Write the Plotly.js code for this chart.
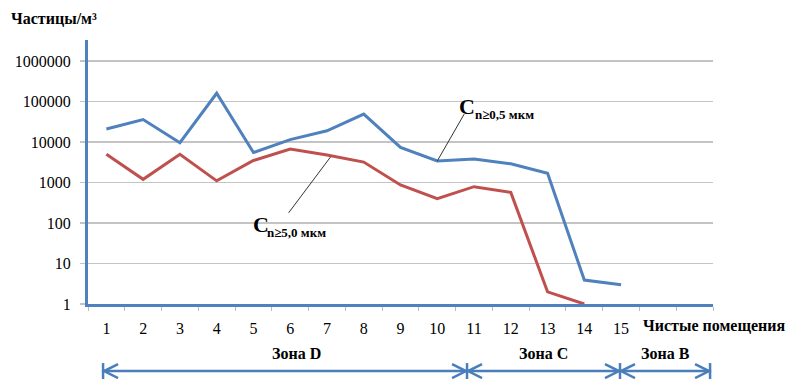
<!DOCTYPE html>
<html>
<head>
<meta charset="utf-8">
<script src="https://cdn.plot.ly/plotly-3.0.1.min.js"></script>
<style>html,body{margin:0;padding:0;background:#fff;}#chart{width:799px;height:379px;}</style>
</head>
<body>
<div id="chart"></div>
<script>
// ---- data ----
const rooms = [1,2,3,4,5,6,7,8,9,10,11,12,13,14,15];
const c05 = [21000, 36000, 9600, 160000, 5500, 11500, 19000, 49000, 7400, 3400, 3800, 2900, 1700, 3.9, 3.0];
const c50 = [5000, 1200, 5000, 1100, 3500, 6700, 4800, 3200, 870, 400, 790, 570, 2.0, 1.0];
const yTickVals = [1, 10, 100, 1000, 10000, 100000, 1000000];
const yTickText = ['1','10','100','1000','10000','100000','1000000'];
const zoneNames = ['Зона D', 'Зона C', 'Зона B'];
const seriesMain = ['C', 'C'];
const seriesSub = ['n≥0,5 мкм', 'n≥5,0 мкм'];

// ---- layout helpers ----
const zoneEdges = [0.91, 10.81, 14.97, 17.42];
const serif = 'Liberation Serif, Times New Roman, serif';
const blue = '#4F81BD', red = '#C0504D', arrowBlue = '#4A7EBB';
const arrowY = -0.254, zoneLabelY = -0.186;
const px = v => (v - 88) / 625, py = v => (304 - v) / 264;

const traces = [
  {x: rooms, y: c05, type: 'scatter', mode: 'lines', line: {color: blue, width: 3}, hoverinfo: 'skip'},
  {x: rooms.slice(0, c50.length), y: c50, type: 'scatter', mode: 'lines', line: {color: red, width: 3}, hoverinfo: 'skip'}
];

const shapes = [];
const annotations = [];
for (let i = 0; i < zoneNames.length; i++) {
  const a = zoneEdges[i], b = zoneEdges[i + 1];
  shapes.push({type: 'line', xref: 'x', yref: 'paper', x0: a, x1: b, y0: arrowY, y1: arrowY,
    line: {color: arrowBlue, width: 2.5}});
  shapes.push({type: 'path', xref: 'x', yref: 'paper', xsizemode: 'pixel', ysizemode: 'pixel',
    xanchor: a, yanchor: arrowY, path: 'M 15 7 L 1 0 L 15 -7', line: {color: arrowBlue, width: 2.5}});
  shapes.push({type: 'path', xref: 'x', yref: 'paper', xsizemode: 'pixel', ysizemode: 'pixel',
    xanchor: b, yanchor: arrowY, path: 'M -15 7 L -1 0 L -15 -7', line: {color: arrowBlue, width: 2.5}});
  annotations.push({xref: 'x', yref: 'paper', x: (a + b) / 2 + (i === 0 ? 0.3 : 0), y: zoneLabelY, text: '<b>' + zoneNames[i] + '</b>',
    showarrow: false, font: {family: serif, size: 16, color: '#000'}, xanchor: 'center', yanchor: 'middle'});
}
zoneEdges.forEach(e => {
  shapes.push({type: 'path', xref: 'x', yref: 'paper', xsizemode: 'pixel', ysizemode: 'pixel',
    xanchor: e, yanchor: arrowY, path: 'M 0 8 L 0 -8', line: {color: arrowBlue, width: 2.5}});
});

// leader lines (anchored on the data points)
shapes.push({type: 'path', xref: 'x', yref: 'y', xsizemode: 'pixel', ysizemode: 'pixel',
  xanchor: 10, yanchor: c05[9], path: 'M 0 0 L 27 47', line: {color: '#333', width: 1}});
shapes.push({type: 'path', xref: 'x', yref: 'y', xsizemode: 'pixel', ysizemode: 'pixel',
  xanchor: 7.1, yanchor: c50[6] * 0.9, path: 'M 0 0 L -42 -56', line: {color: '#333', width: 1}});

// series labels: large "C" plus a smaller subscript
const labelPos = [{cx: 457, cy: 106, sx: 473, sy: 114}, {cx: 251, cy: 225, sx: 265, sy: 232}];
labelPos.forEach((p, i) => {
  annotations.push({xref: 'paper', yref: 'paper', x: px(p.cx), y: py(p.cy), text: '<b>' + seriesMain[i] + '</b>',
    showarrow: false, xanchor: 'left', yanchor: 'middle', font: {family: serif, size: 22, color: '#000'}});
  annotations.push({xref: 'paper', yref: 'paper', x: px(p.sx), y: py(p.sy), text: '<b>' + seriesSub[i] + '</b>',
    showarrow: false, xanchor: 'left', yanchor: 'middle', font: {family: serif, size: 13, color: '#000'}});
});

// axis titles
annotations.push({xref: 'paper', yref: 'paper', x: px(9), y: py(19),
  text: '<b>Частицы/м³</b>', showarrow: false, xanchor: 'left', yanchor: 'middle',
  font: {family: serif, size: 16, color: '#000'}});
annotations.push({xref: 'paper', yref: 'paper', x: px(641), y: py(325),
  text: '<b>Чистые помещения</b>', showarrow: false, xanchor: 'left', yanchor: 'middle',
  font: {family: serif, size: 16, color: '#000'}});

const layout = {
  width: 799, height: 379,
  margin: {l: 88, r: 86, t: 40, b: 75},
  paper_bgcolor: '#fff', plot_bgcolor: '#fff',
  showlegend: false,
  font: {family: serif, size: 16, color: '#000'},
  xaxis: {
    range: [0.5, 17.5], tickvals: rooms, ticktext: rooms.map(String), ticks: '',
    showgrid: false, zeroline: false, showline: true, linecolor: blue, linewidth: 2.5,
    ticklabelstandoff: 8, tickfont: {family: serif, size: 16, color: '#000'},
    minor: {tickmode: 'linear', tick0: 0.5, dtick: 1, ticks: 'outside', ticklen: 4, tickcolor: '#bbb', tickwidth: 1, showgrid: false}
  },
  yaxis: {
    type: 'log', range: [0, 6.52], tickvals: yTickVals, ticktext: yTickText,
    showgrid: true, gridcolor: '#c4c4c4', gridwidth: 1.5, zeroline: false,
    showline: true, linecolor: blue, linewidth: 3,
    ticks: 'outside', ticklen: 5, tickcolor: '#c4c4c4', tickwidth: 1.5,
    ticklabelstandoff: 6, tickfont: {family: serif, size: 16, color: '#000'}
  },
  shapes: shapes,
  annotations: annotations
};

Plotly.newPlot('chart', traces, layout, {staticPlot: true, displayModeBar: false});
</script>
</body>
</html>
